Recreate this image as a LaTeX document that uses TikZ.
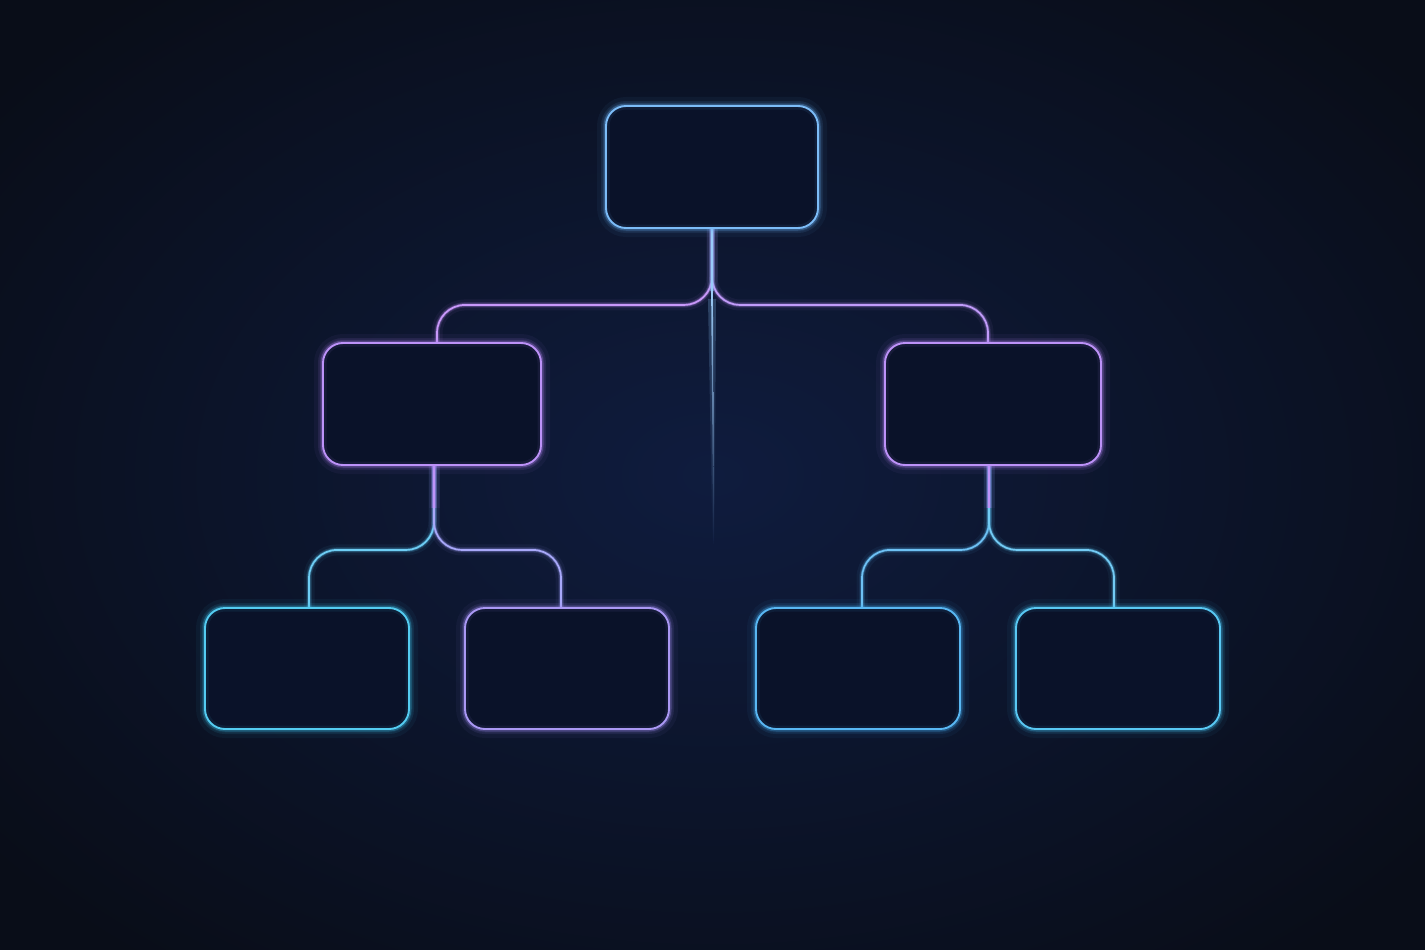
\documentclass[tikz,border=0pt]{standalone}
\usetikzlibrary{calc}
\pgfdeclarelayer{back}
\pgfdeclarelayer{wires}
\pgfsetlayers{back,wires,main}
\definecolor{bgout}{HTML}{090D18}
\definecolor{bgin}{HTML}{0F1C3E}
\definecolor{boxfill}{HTML}{0A1229}
\definecolor{cTop}{HTML}{6CB4F8}
\definecolor{cMid}{HTML}{B585F8}
\definecolor{cBa}{HTML}{3FC6F0}
\definecolor{cBb}{HTML}{A08CF4}
\definecolor{cBc}{HTML}{45AEF2}
\definecolor{cBd}{HTML}{45C2F2}
\definecolor{cTL}{HTML}{C08AF8}
\definecolor{cTR}{HTML}{B98EF8}
\definecolor{cLa}{HTML}{5AC6F2}
\definecolor{cLb}{HTML}{9C9CF8}
\definecolor{cRa}{HTML}{5AB8F2}
\definecolor{cRb}{HTML}{60C4F2}
\definecolor{cStem}{HTML}{8CC4F8}
\begin{document}
\begin{tikzpicture}[x=1pt,y=-1pt,
  gbox/.style={rectangle, rounded corners=20pt, inner sep=0pt, minimum height=122pt,
    fill=boxfill, draw=#1!88!white, line width=1.9pt,
    preaction={draw=#1, line width=18pt, opacity=0.05},
    preaction={draw=#1, line width=10pt, opacity=0.10},
    preaction={draw=#1, line width=5pt, opacity=0.28},
    postaction={draw=#1, line width=7pt, opacity=0.08}},
  glowline/.style={draw=#1!88!white, line width=1.7pt, rounded corners=28pt,
    preaction={draw=#1, line width=11pt, opacity=0.06},
    preaction={draw=#1, line width=5.5pt, opacity=0.15},
    preaction={draw=#1, line width=3.2pt, opacity=0.32}}]
\useasboundingbox (0,0) rectangle (1425,950);
\begin{pgfonlayer}{back}
\shade[inner color=bgin, outer color=bgout] (-200,-150) rectangle (1625,1100);
\end{pgfonlayer}

% boxes
\node[gbox=cTop, minimum width=212pt] (top) at (712,167) {};
\node[gbox=cMid, minimum width=218pt] (ml) at (432,404) {};
\node[gbox=cMid, minimum width=216pt] (mr) at (993,404) {};
\node[gbox=cBa, minimum width=204pt, minimum height=121pt] (b1) at (307,668.5) {};
\node[gbox=cBb, minimum width=204pt, minimum height=121pt] (b2) at (567,668.5) {};
\node[gbox=cBc, minimum width=204pt, minimum height=121pt] (b3) at (858,668.5) {};
\node[gbox=cBd, minimum width=204pt, minimum height=121pt] (b4) at (1118,668.5) {};

% connectors
\begin{pgfonlayer}{wires}
\draw[glowline=cTL] (top.south) -- ++(0,76) -| ($(ml.north)+(5,0)$);
\draw[glowline=cTR] (top.south) -- ++(0,76) -| ($(mr.north)+(-5,0)$);
\draw[glowline=cLa] ($(ml.south)+(2,0)$) -- ++(0,84) -| ($(b1.north)+(2,0)$);
\draw[glowline=cLb] ($(ml.south)+(2,0)$) -- ++(0,84) -| ($(b2.north)+(-6,0)$);
\draw[glowline=cRa] ($(mr.south)+(-4,0)$) -- ++(0,84) -| ($(b3.north)+(4,0)$);
\draw[glowline=cRb] ($(mr.south)+(-4,0)$) -- ++(0,84) -| ($(b4.north)+(-4,0)$);
\draw[glowline=cMid] ($(ml.south)+(2,0)$) -- ++(0,42);
\draw[glowline=cMid] ($(mr.south)+(-4,0)$) -- ++(0,42);
% central fading line
\coordinate (cend) at ($(top.south)+(1.5,315)$);
\shade[top color=cStem, bottom color=bgin, opacity=0.25] ($(top.south)+(-4,70)$) -- ($(top.south)+(4,70)$) -- ($(cend)+(1,0)$) -- ($(cend)+(-1,0)$) -- cycle;
\shade[top color=cStem!85!white, bottom color=bgin] ($(top.south)+(-0.9,60)$) -- ($(top.south)+(0.9,60)$) -- ($(cend)+(0.25,0)$) -- ($(cend)+(-0.25,0)$) -- cycle;
\draw[glowline=cStem] (top.south) -- ++(0,62);
\end{pgfonlayer}
\end{tikzpicture}
\end{document}
